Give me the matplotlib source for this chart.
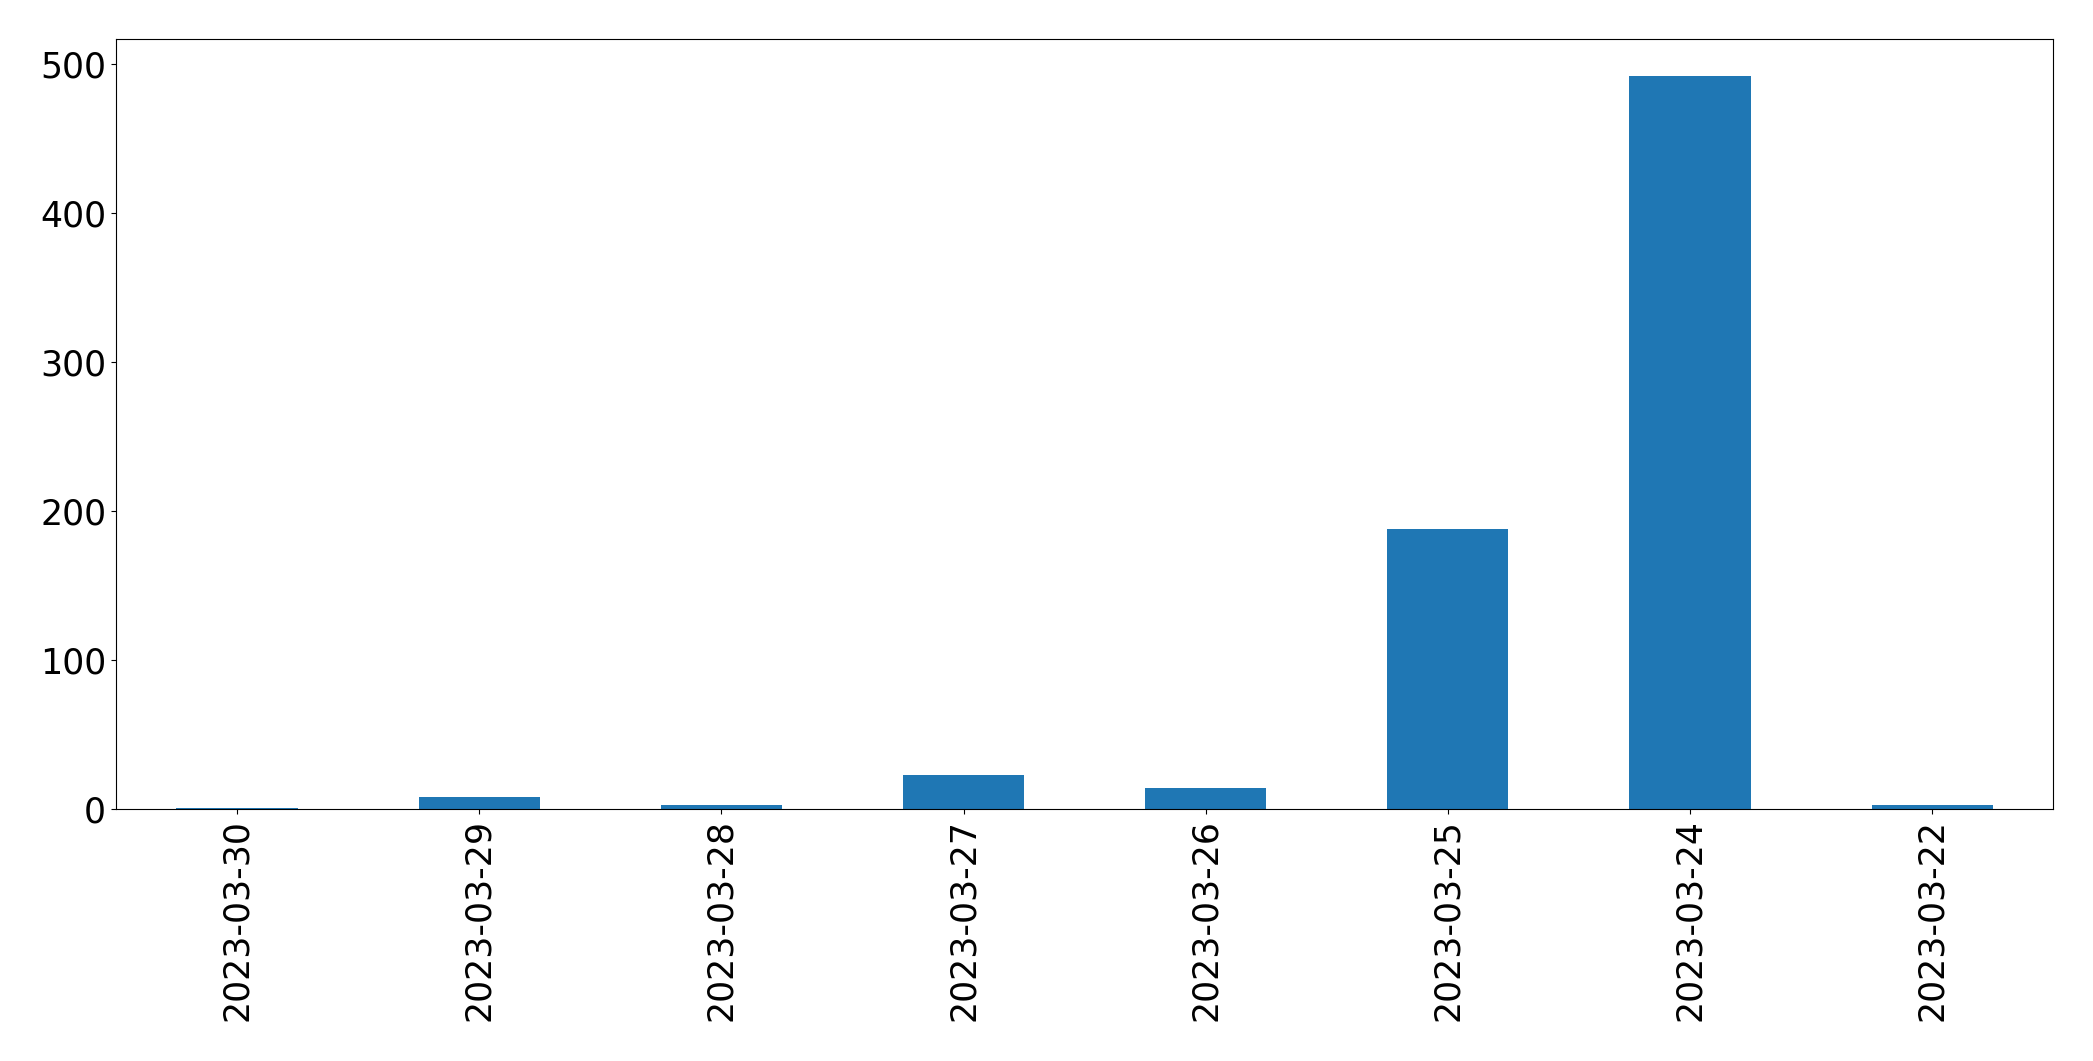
import pandas as pd
import matplotlib
matplotlib.use('Agg')
import matplotlib.pyplot as plt

# dates as they appear on the x axis (left to right)
dates = ['2023-03-30', '2023-03-29', '2023-03-28', '2023-03-27',
         '2023-03-26', '2023-03-25', '2023-03-24', '2023-03-22']
counts = [1, 8, 3, 23, 14, 188, 492, 3]

s = pd.Series(counts, index=dates)

fig = plt.figure(figsize=(20.93, 10.61), dpi=100)
ax = fig.add_axes([0.0554, 0.2375, 0.9256, 0.7255])
s.plot.bar(ax=ax, color='#1f77b4')
ax.tick_params(axis='both', labelsize=25)
plt.savefig('out.png', dpi=100)
